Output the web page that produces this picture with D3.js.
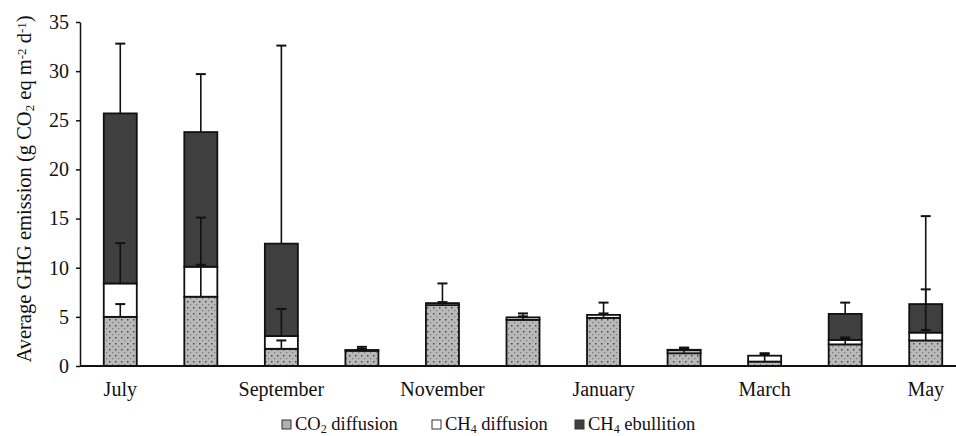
<!DOCTYPE html>
<meta charset="utf-8">
<script src="https://d3js.org/d3.v7.min.js"></script>
<style>
  body { margin: 0; background: #fff; }
  svg text { font-family: "Liberation Serif", "DejaVu Serif", serif !important; fill: #111; }
</style>
<div id="chart"></div>
<script>
// months (x categories), only every other one gets a label
var months = ["July", "August", "September", "October", "November", "December",
              "January", "February", "March", "April", "May"];
var shownMonths = ["July", "September", "November", "January", "March", "May"];

// stacked series, g CO2 eq m-2 d-1
var co2Diff   = [5.0, 7.05, 1.75, 1.55, 6.2, 4.7, 4.9, 1.3, 0.45, 2.2, 2.6];
var ch4Diff   = [3.4, 3.05, 1.3, 0.08, 0.2, 0.25, 0.3, 0.3, 0.6, 0.45, 0.8];
var ch4Ebull  = [17.3, 13.7, 9.4, 0, 0, 0, 0, 0.05, 0, 2.65, 2.9];

// error bars (upper side only) for each segment
var co2Err    = [1.3, 3.25, 0.85, 0.4, 2.2, 0.65, 1.55, 0.55, 0.85, 0.7, 1.05];
var ch4DiffErr = [4.1, 5.0, 2.75, 0.1, 0.1, 0.1, 0.15, 0.25, 0.15, 0.1, 4.4];
var ch4EbullErr = [7.1, 5.9, 20.15, 0, 0, 0, 0, 0.2, 0, 1.15, 8.95];

var yTicks = [0, 5, 10, 15, 20, 25, 30, 35];

var W = 956, H = 436;
var serif = "'Liberation Serif', 'DejaVu Serif', serif";
var svg = d3.select("#chart").append("svg")
    .attr("width", W).attr("height", H)
    .attr("font-family", serif);

// dotted grey fill for CO2
var defs = svg.append("defs");
var pat = defs.append("pattern")
    .attr("id", "dots").attr("patternUnits", "userSpaceOnUse")
    .attr("width", 6).attr("height", 6);
pat.append("rect").attr("width", 6).attr("height", 6).attr("fill", "#b9b9b9");
pat.append("rect").attr("x", 1).attr("y", 1).attr("width", 1.5).attr("height", 1.5).attr("fill", "#4a4a4a");
pat.append("rect").attr("x", 4).attr("y", 4).attr("width", 1.2).attr("height", 1.2).attr("fill", "#777");

var x = d3.scaleBand()
    .domain(months)
    .range([80, 966])
    .paddingInner(0.59)
    .paddingOuter(0.295);

var y = d3.scaleLinear()
    .domain([0, 35])
    .range([366, 22]);

var series = [
  { key: "co2", vals: co2Diff, err: co2Err, fill: "url(#dots)" },
  { key: "ch4d", vals: ch4Diff, err: ch4DiffErr, fill: "#ffffff" },
  { key: "ch4e", vals: ch4Ebull, err: ch4EbullErr, fill: "#3f3f3f" }
];

// build stacked rows
var rows = [];
months.forEach(function (m, i) {
  var base = 0;
  series.forEach(function (s) {
    rows.push({ month: m, key: s.key, y0: base, y1: base + s.vals[i], err: s.err[i], fill: s.fill, v: s.vals[i] });
    base += s.vals[i];
  });
});

// bars
svg.append("g").selectAll("rect")
    .data(rows.filter(function (d) { return d.v > 0; }))
    .enter().append("rect")
    .attr("x", function (d) { return x(d.month); })
    .attr("width", x.bandwidth())
    .attr("y", function (d) { return y(d.y1); })
    .attr("height", function (d) { return y(d.y0) - y(d.y1); })
    .attr("fill", function (d) { return d.fill; })
    .attr("stroke", "#111")
    .attr("stroke-width", 1.8);

// error bars
var eb = svg.append("g").selectAll("g")
    .data(rows.filter(function (d) { return d.err > 0; }))
    .enter().append("g");
eb.append("line")
    .attr("x1", function (d) { return x(d.month) + x.bandwidth() / 2; })
    .attr("x2", function (d) { return x(d.month) + x.bandwidth() / 2; })
    .attr("y1", function (d) { return y(d.y1); })
    .attr("y2", function (d) { return y(d.y1 + d.err); })
    .attr("stroke", "#111").attr("stroke-width", 1.6);
eb.append("line")
    .attr("x1", function (d) { return x(d.month) + x.bandwidth() / 2 - 5; })
    .attr("x2", function (d) { return x(d.month) + x.bandwidth() / 2 + 5; })
    .attr("y1", function (d) { return y(d.y1 + d.err); })
    .attr("y2", function (d) { return y(d.y1 + d.err); })
    .attr("stroke", "#111").attr("stroke-width", 2);

// y axis
var yAxis = svg.append("g")
    .attr("transform", "translate(80,0)")
    .call(d3.axisLeft(y).tickValues(yTicks).tickSize(4).tickPadding(7).tickSizeOuter(0));
yAxis.attr("font-family", serif);
yAxis.selectAll("path, line").attr("stroke", "#111").attr("stroke-width", 1.5);
yAxis.selectAll("text").style("font-size", "20px").style("font-family", serif).attr("fill", "#111");

// x axis line + labels
svg.append("line")
    .attr("x1", 80).attr("x2", W).attr("y1", y(0)).attr("y2", y(0))
    .attr("stroke", "#111").attr("stroke-width", 1.8);
var xAxis = svg.append("g")
    .attr("transform", "translate(0," + y(0) + ")")
    .call(d3.axisBottom(x).tickSize(0).tickPadding(16)
      .tickFormat(function (d) { return shownMonths.indexOf(d) >= 0 ? d : ""; }));
xAxis.attr("font-family", serif);
xAxis.select(".domain").remove();
xAxis.selectAll("text").style("font-size", "20px").style("font-family", serif).attr("fill", "#111");

// y label
var yl = svg.append("text")
    .attr("transform", "translate(31,189) rotate(-90)")
    .attr("text-anchor", "middle")
    .style("font-family", serif)
    .style("font-size", "20.5px");
yl.append("tspan").text("Average GHG emission (g CO");
yl.append("tspan").attr("baseline-shift", "-25%").style("font-size", "13px").text("2");
yl.append("tspan").text(" eq m");
yl.append("tspan").attr("baseline-shift", "40%").style("font-size", "13px").text("-2");
yl.append("tspan").text(" d");
yl.append("tspan").attr("baseline-shift", "40%").style("font-size", "13px").text("-1");
yl.append("tspan").text(")");

// legend
var legend = [
  { x: 282, fill: "#b0b0b0", name: "CO", sub: "2", rest: " diffusion" },
  { x: 432, fill: "#ffffff", name: "CH", sub: "4", rest: " diffusion" },
  { x: 575, fill: "#3f3f3f", name: "CH", sub: "4", rest: " ebullition" }
];
var lg = svg.append("g").selectAll("g").data(legend).enter().append("g");
lg.append("rect")
    .attr("x", function (d) { return d.x; }).attr("y", 420)
    .attr("width", 9).attr("height", 9)
    .attr("fill", function (d) { return d.fill; })
    .attr("stroke", "#333").attr("stroke-width", 1);
var lt = lg.append("text")
    .attr("x", function (d) { return d.x + 13; }).attr("y", 430)
    .style("font-family", serif)
    .style("font-size", "18.5px");
lt.append("tspan").text(function (d) { return d.name; });
lt.append("tspan").attr("baseline-shift", "-25%").style("font-size", "12px").text(function (d) { return d.sub; });
lt.append("tspan").text(function (d) { return d.rest; });
</script>
